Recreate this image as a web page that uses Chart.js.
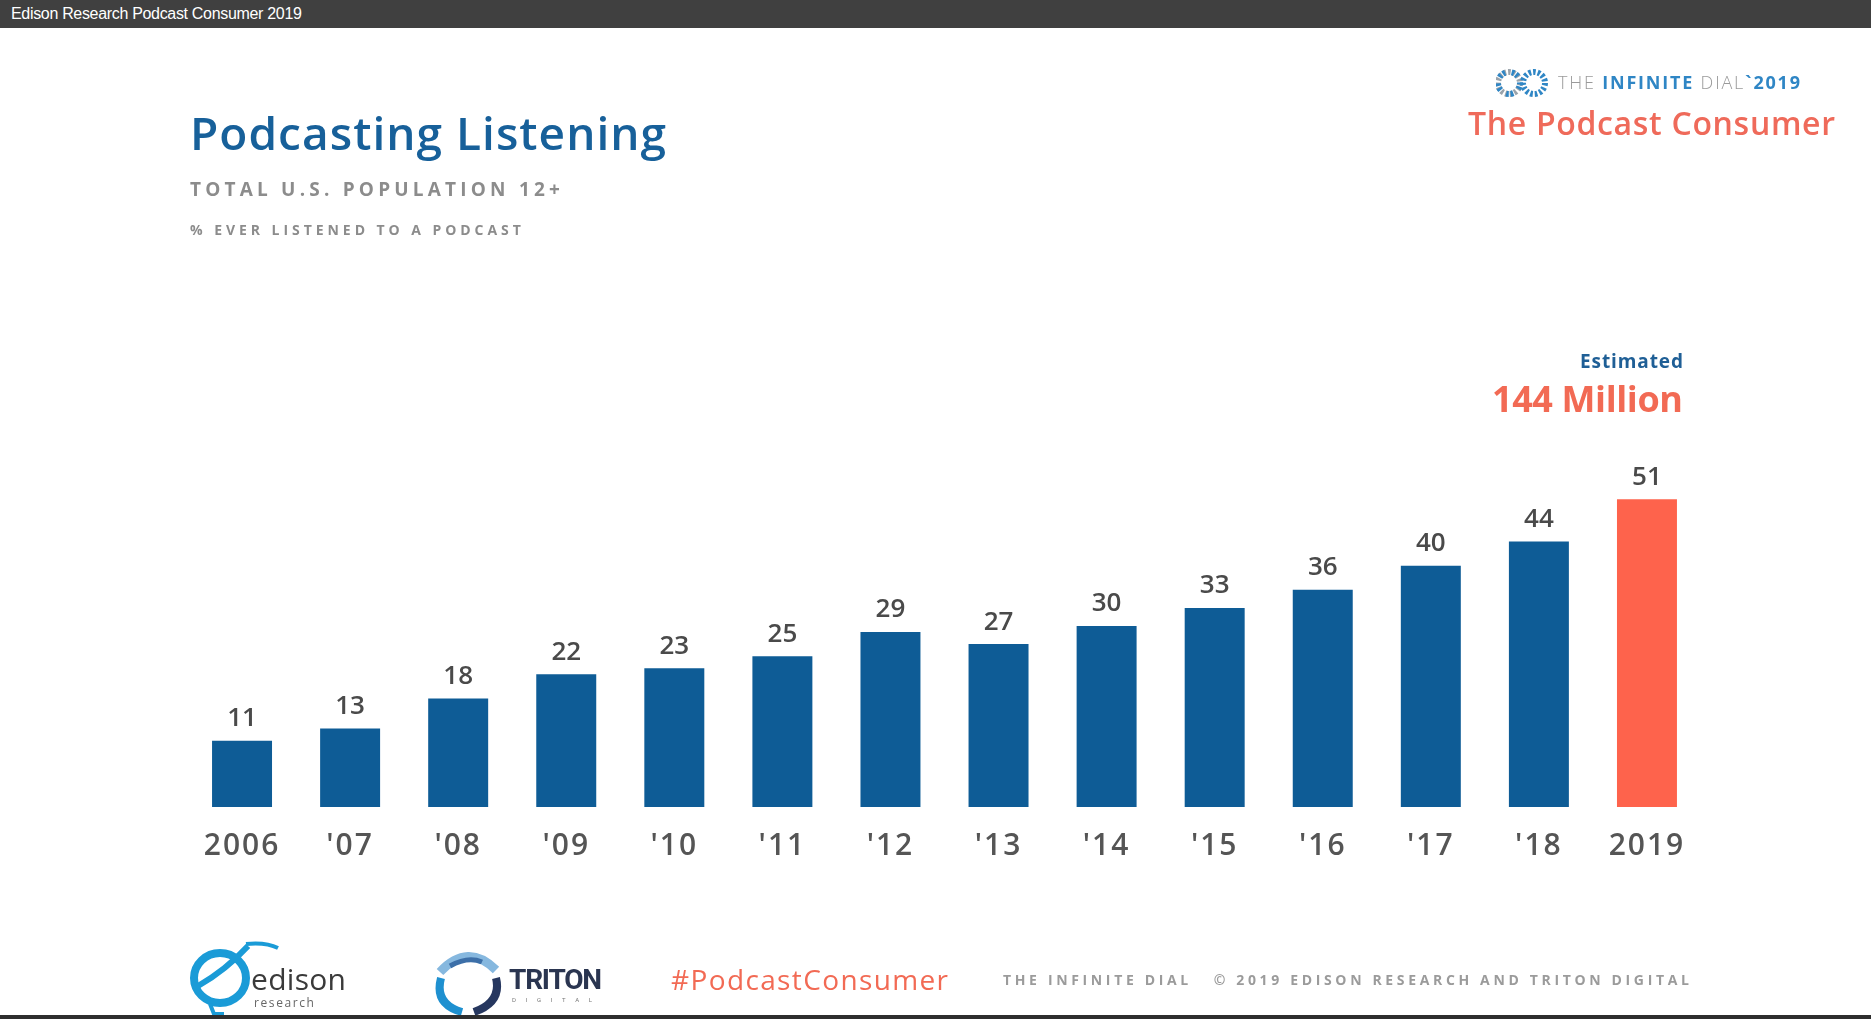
<!DOCTYPE html>
<html><head><meta charset="utf-8">
<script src="https://cdn.jsdelivr.net/npm/chart.js@4.4.1/dist/chart.umd.min.js"></script>
<style>
html,body{margin:0;padding:0;background:#fff;width:1871px;height:1019px;overflow:hidden;position:relative;font-family:"Open Sans",sans-serif}
#topbar{position:absolute;left:0;top:0;width:1871px;height:28px;background:#404040}
#botbar{position:absolute;left:0;top:1015px;width:1871px;height:4px;background:#2e2e2e}
.t{position:absolute;white-space:nowrap;line-height:1}
#chartwrap{position:absolute;left:0;top:0;width:1871px;height:1019px}
</style></head><body>
<div id="chartwrap"><canvas id="c" width="1871" height="1019"></canvas></div>
<div id="topbar"></div>
<div class="t" data-w="291" style="left:11px;top:6px;font-family:'Liberation Sans',Arial,sans-serif;font-size:16px;color:#fff">Edison Research Podcast Consumer 2019</div>

<div class="t" data-w="476" style="left:190px;top:109px;font-size:46px;font-weight:600;color:#17609a">Podcasting Listening</div>
<div class="t" data-w="370" style="left:190px;top:180px;font-size:19px;font-weight:700;color:#8c8c8c">TOTAL U.S. POPULATION 12+</div>
<div class="t" data-w="331" style="left:190px;top:223px;font-size:14px;font-weight:700;color:#8c8c8c">% EVER LISTENED TO A PODCAST</div>

<svg style="position:absolute;left:1496px;top:66px" width="52" height="34">
  <circle cx="13" cy="17" r="11" fill="none" stroke="#9aa3ab" stroke-width="6" stroke-dasharray="2.6 2"/>
  <circle cx="13" cy="17" r="11" fill="none" stroke="#2f86c5" stroke-width="6" stroke-dasharray="2.6 2 2.6 6.6" stroke-dashoffset="1"/>
  <circle cx="38" cy="17" r="11" fill="none" stroke="#2f86c5" stroke-width="6" stroke-dasharray="2.6 2"/>
</svg>
<div class="t" data-w="242" style="left:1558px;top:73px;font-size:18px;color:#9a9a9a"><span style="font-weight:300">THE </span><span style="font-weight:700;color:#2f86c5">INFINITE</span><span style="font-weight:300"> DIAL</span><span style="font-weight:700;color:#2f86c5">`2019</span></div>
<div class="t" data-w="367" style="left:1468px;top:107px;font-size:32px;font-weight:600;color:#ef6a5a">The Podcast Consumer</div>

<div class="t" data-w="103" style="left:1580px;top:352px;font-size:19px;font-weight:700;color:#1f5f96">Estimated</div>
<div class="t" data-w="191" style="left:1492px;top:381px;font-size:36px;font-weight:700;color:#f26a54">144 Million</div>

<svg style="position:absolute;left:186px;top:940px" width="100" height="78">
  <ellipse cx="34" cy="38" rx="26" ry="25" fill="none" stroke="#1a9bd7" stroke-width="8"/>
  <path d="M12 46 Q40 30 62 6" stroke="#1a9bd7" stroke-width="6" fill="none"/>
  <path d="M60 4 Q80 2 92 8" stroke="#1a9bd7" stroke-width="4" fill="none"/>
  <path d="M24 64 L28 74 L38 74" stroke="#1a9bd7" stroke-width="4" fill="none"/>
</svg>
<div class="t" data-w="95" style="left:251px;top:964px;font-size:30px;font-weight:400;color:#3a3a3a;background:transparent">edison</div>
<div class="t" data-w="60" style="left:254px;top:997px;font-size:12px;color:#666">research</div>

<svg style="position:absolute;left:432px;top:948px" width="74" height="68">
  <path d="M8 24 Q36 -6 64 22" stroke="#86b8df" stroke-width="9" fill="none"/>
  <path d="M18 18 Q36 8 50 14" stroke="#3c6fa8" stroke-width="5" fill="none"/>
  <path d="M9 30 Q2 56 30 64" stroke="#1e90d0" stroke-width="8" fill="none"/>
  <path d="M64 30 Q70 54 42 64" stroke="#26375f" stroke-width="8" fill="none"/>
</svg>
<div class="t" data-w="93" style="left:509px;top:966px;font-family:Roboto,sans-serif;font-size:28px;font-weight:700;color:#2a3550">TRITON</div>
<div class="t" data-w="80" style="left:512px;top:997px;font-family:Roboto,sans-serif;font-size:6px;color:#777">DIGITAL</div>

<div class="t" data-w="277" style="left:671px;top:965px;font-size:28px;font-weight:500;color:#f26a54">#PodcastConsumer</div>
<div class="t" data-w="686" style="left:1003px;top:973px;font-size:14px;font-weight:700;color:#9b9b9b">THE INFINITE DIAL&nbsp;&nbsp;&nbsp;© 2019 EDISON RESEARCH AND TRITON DIGITAL</div>
<div id="botbar"></div>

<script>
const categories = ["2006", "'07", "'08", "'09", "'10", "'11", "'12", "'13", "'14", "'15", "'16", "'17", "'18", "2019"];
const listenedPct = [11, 13, 18, 22, 23, 25, 29, 27, 30, 33, 36, 40, 44, 51];
const yAxisMax = 60;

const valueLabels = {
  id: 'valueLabels',
  afterDatasetsDraw(chart) {
    const ctx = chart.ctx;
    const meta = chart.getDatasetMeta(0);
    ctx.save();
    ctx.font = '600 26px "Open Sans"';
    ctx.fillStyle = '#4a4a4a';
    ctx.textAlign = 'center';
    ctx.textBaseline = 'middle';
    meta.data.forEach((bar, i) => {
      ctx.fillText(String(chart.data.datasets[0].data[i]), bar.x, bar.y - 22);
    });
    ctx.restore();
  }
};
const spacing = {
  id: 'spacing',
  beforeDraw(chart) { try { chart.ctx.letterSpacing = '2px'; } catch (e) {} },
  afterDatasetsDraw(chart) { try { chart.ctx.letterSpacing = '0px'; } catch (e) {} }
};

new Chart(document.getElementById('c'), {
  type: 'bar',
  data: {
    labels: categories,
    datasets: [{
      data: listenedPct,
      backgroundColor: categories.map((c, i) => i === categories.length - 1 ? '#fe634c' : '#0e5c96'),
      borderWidth: 0,
      barPercentage: 0.555,
      categoryPercentage: 1
    }]
  },
  options: {
    responsive: false,
    animation: false,
    devicePixelRatio: 1,
    layout: { padding: { left: 188, right: 170, top: 445, bottom: 152 } },
    plugins: { legend: { display: false }, tooltip: { enabled: false } },
    scales: {
      x: {
        grid: { display: false, drawTicks: false },
        border: { display: false },
        ticks: { color: '#555', font: { family: 'Open Sans', size: 30, weight: '600' }, padding: 21, maxRotation: 0, autoSkip: false },
        afterFit(s) { s.height = 60; }
      },
      y: { display: false, min: 0, max: yAxisMax }
    }
  },
  plugins: [spacing, valueLabels]
});

function fitTexts() {
  document.querySelectorAll('.t[data-w]').forEach(el => {
    el.style.letterSpacing = '0px';
    const target = parseFloat(el.dataset.w);
    const w = el.getBoundingClientRect().width;
    const n = el.textContent.length;
    if (n > 1) el.style.letterSpacing = ((target - w) / (n - 1)).toFixed(2) + 'px';
  });
}
fitTexts();
if (document.fonts && document.fonts.ready) document.fonts.ready.then(fitTexts);
</script>
</body></html>
